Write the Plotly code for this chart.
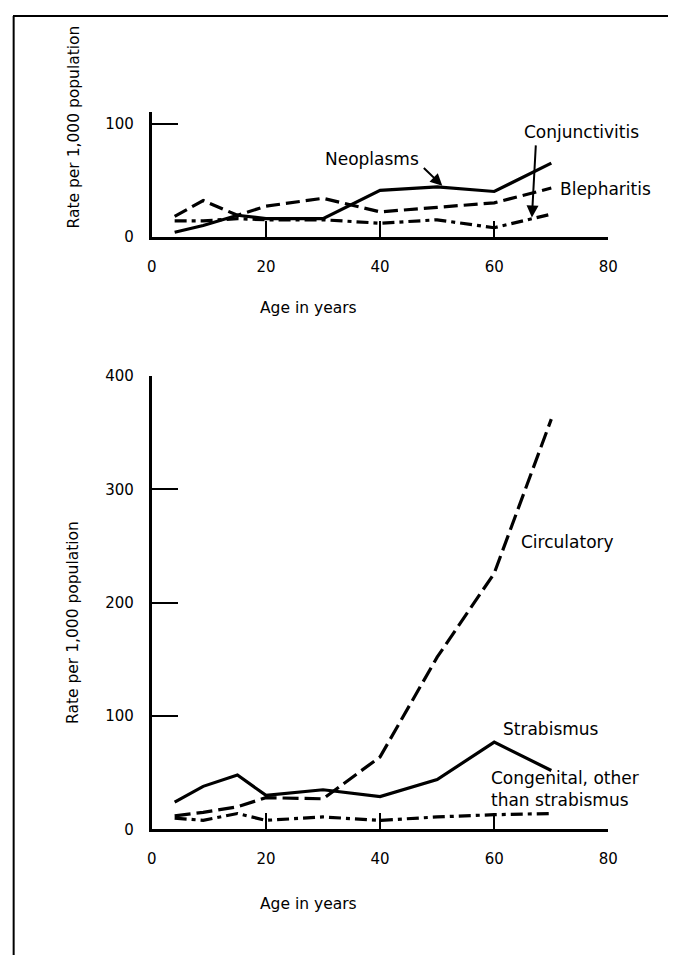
import plotly.graph_objects as go

# ---- data ----
ages = [4, 9, 15, 20, 30, 40, 50, 60, 70]
neoplasms = [4, 10, 19, 16, 16, 41, 44, 40, 65]
blepharitis = [18, 32, 19, 27, 34, 22, 26, 30, 43]
conjunctivitis = [14, 14, 16, 15, 15, 12, 15, 8, 20]
strabismus = [24, 38, 48, 30, 35, 29, 44, 77, 52]
circulatory = [12, 15, 20, 28, 27, 64, 152, 226, 362]
congenital = [10, 8, 14, 8, 11, 8, 11, 13, 14]

x_ticks = [0, 20, 40, 60, 80]
top_y_ticks = [0, 100]
bottom_y_ticks = [0, 100, 200, 300, 400]

# page has an 8px body margin -> shift everything by 8px
OFF = 8
W, H = 678 - OFF, 972 - 2 * OFF
FONT = "DejaVu Sans, Verdana, sans-serif"


def px_x(p):
    return (p - OFF) / W


def px_y(p):
    return 1 - (p - OFF) / H


fig = go.Figure()

LW = 3.2
top_series = [
    (neoplasms, "solid"),
    (blepharitis, "14px,6px"),
    (conjunctivitis, "12px,5px,4px,5px"),
]
for vals, dash in top_series:
    fig.add_trace(go.Scatter(x=ages, y=vals, mode="lines", xaxis="x", yaxis="y",
                             line=dict(color="black", width=LW, dash=dash),
                             showlegend=False, hoverinfo="skip"))

bottom_series = [
    (strabismus, "solid"),
    (circulatory, "16px,6px"),
    (congenital, "12px,5px,4px,5px"),
]
for vals, dash in bottom_series:
    fig.add_trace(go.Scatter(x=ages, y=vals, mode="lines", xaxis="x2", yaxis="y2",
                             line=dict(color="black", width=LW, dash=dash),
                             showlegend=False, hoverinfo="skip"))

xdom = [px_x(150), px_x(617)]
axis_common = dict(showline=True, linecolor="black", linewidth=3, showgrid=False,
                   zeroline=False, ticks="inside", tickcolor="black", tickwidth=2,
                   tickfont=dict(family=FONT, size=15, color="black"))

fig.update_layout(
    width=W, height=H,
    margin=dict(l=0, r=0, t=0, b=0),
    paper_bgcolor="white", plot_bgcolor="white",
    font=dict(family=FONT, color="black"),
    xaxis=dict(domain=xdom, range=[0, 80], tickvals=x_ticks, ticklen=16,
               anchor="y", ticklabelstandoff=14, **axis_common),
    yaxis=dict(domain=[px_y(232), px_y(105)], range=[0, 110], tickvals=top_y_ticks,
               ticklen=26, anchor="x", ticklabelstandoff=12, **axis_common),
    xaxis2=dict(domain=xdom, range=[0, 80], tickvals=x_ticks, ticklen=16,
                anchor="y2", ticklabelstandoff=14, **axis_common),
    yaxis2=dict(domain=[px_y(836), px_y(374)], range=[0, 400], tickvals=bottom_y_ticks,
                ticklen=26, anchor="x2", ticklabelstandoff=12, **axis_common),
)

lab = dict(family=FONT, size=17, color="black")
title_font = dict(family=FONT, size=15.5, color="black")
C = dict(xanchor="center", yanchor="middle", showarrow=False)
ann = []
# Axis titles
ann.append(dict(text="Age in years", xref="paper", yref="paper", x=px_x(310), y=px_y(305),
                font=title_font, **C))
ann.append(dict(text="Age in years", xref="paper", yref="paper", x=px_x(310), y=px_y(912),
                font=title_font, **C))
ann.append(dict(text="Rate per 1,000 population", xref="paper", yref="paper",
                x=px_x(70), y=px_y(120), textangle=-90, font=title_font, **C))
ann.append(dict(text="Rate per 1,000 population", xref="paper", yref="paper",
                x=px_x(70), y=px_y(625), textangle=-90, font=title_font, **C))

# Series labels - top chart
ann.append(dict(text="", xref="x", yref="y", x=50.9, y=45, ax=47.4, ay=62,
                axref="x", ayref="y", showarrow=True, arrowhead=2, arrowsize=1.2,
                arrowwidth=2, arrowcolor="black"))
ann.append(dict(text="Neoplasms", xref="x", yref="y", x=38.6, y=69, font=lab, **C))
ann.append(dict(text="", xref="x", yref="y", x=66.6, y=17, ax=67.3, ay=82,
                axref="x", ayref="y", showarrow=True, arrowhead=2, arrowsize=1.2,
                arrowwidth=2, arrowcolor="black"))
ann.append(dict(text="Conjunctivitis", xref="x", yref="y", x=75.3, y=92.6, font=lab, **C))
ann.append(dict(text="Blepharitis", xref="x", yref="y", x=71.2, y=42.4, xanchor="left",
                yanchor="middle", showarrow=False, font=lab))
# bottom chart
ann.append(dict(text="Circulatory", xref="x2", yref="y2", x=64.3, y=254, xanchor="left",
                yanchor="middle", showarrow=False, font=lab))
ann.append(dict(text="Strabismus", xref="x2", yref="y2", x=61.2, y=89, xanchor="left",
                yanchor="middle", showarrow=False, font=lab))
ann.append(dict(text="Congenital, other<br>than strabismus", xref="x2", yref="y2", x=59.0,
                y=35.5, xanchor="left", yanchor="middle", align="left", showarrow=False,
                font=lab))

fig.update_layout(annotations=ann)

# Outer frame of the scanned figure
fig.add_shape(type="line", xref="paper", yref="paper", x0=0, y0=px_y(7), x1=1, y1=px_y(7),
              line=dict(color="black", width=2))
fig.add_shape(type="line", xref="paper", yref="paper", x0=0.001, y0=px_y(7), x1=0.001, y1=0,
              line=dict(color="black", width=2))

fig.write_html("out.html")
